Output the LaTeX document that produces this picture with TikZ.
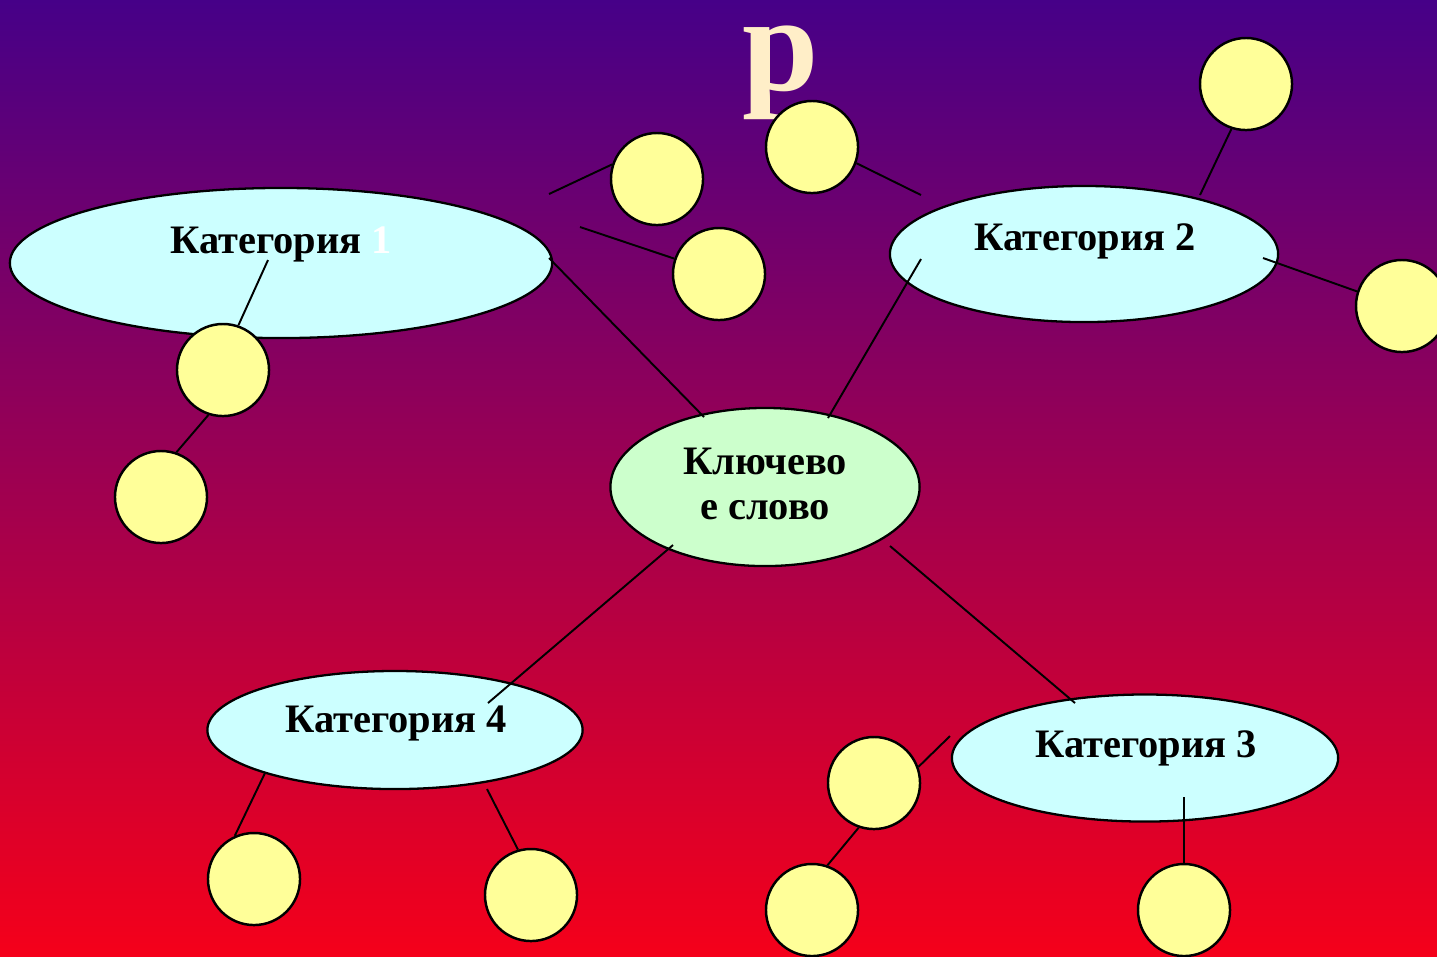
\documentclass[tikz,border=0pt]{standalone}
\usepackage{fontspec}
\setmainfont{Liberation Serif}
\usetikzlibrary{shapes.geometric}
\definecolor{bgtop}{HTML}{460088}
\definecolor{bgmid}{HTML}{A00074}
\definecolor{bgbot}{HTML}{F5001A}
\definecolor{catfill}{HTML}{CCFFFF}
\definecolor{keyfill}{HTML}{CCFFCC}
\definecolor{leaffill}{HTML}{FFFF99}
\definecolor{titlecol}{HTML}{FFEEC8}
\begin{document}
\begin{tikzpicture}[x=0.01cm,y=-0.01cm,
  cat/.style={ellipse, draw=black, line width=0.65pt, fill=catfill, inner sep=0pt},
  leaf/.style={circle, draw=black, line width=0.7pt, fill=leaffill, minimum size=0.92cm, inner sep=0pt},
  lbl/.style={font=\bfseries\fontsize{11.5}{13}\selectfont, text=black, anchor=base, inner sep=0pt},
  link/.style={draw=black, line width=0.55pt}]
\shade[top color=bgtop, middle color=bgmid, bottom color=bgbot] (0,0) rectangle (1437,956);
\useasboundingbox (0,0) rectangle (1437,956);

% title letter
\node[font=\bfseries\fontsize{39}{39}\selectfont, text=titlecol, anchor=base, inner sep=0pt, text height=0.72cm, text depth=0.32cm] (title) at (781,90) {р};

% ellipses
\node[cat, minimum width=5.42cm, minimum height=1.50cm] (cat1) at (281,263) {};
\node[cat, minimum width=3.88cm, minimum height=1.36cm] (cat2) at (1084,254) {};
\node[cat, minimum width=3.86cm, minimum height=1.27cm] (cat3) at (1145,758) {};
\node[cat, minimum width=3.75cm, minimum height=1.18cm] (cat4) at (395,730) {};
\node[cat, fill=keyfill, minimum width=3.09cm, minimum height=1.58cm] (key) at (765,487) {};

% labels
\node[lbl] (cat1t) at (281,253) {Категория \textcolor{white}{1}};
\node[lbl] (cat2t) at (1085,250) {Категория 2};
\node[lbl] (cat3t) at (1146,757) {Категория 3};
\node[lbl] (cat4t) at (396,732) {Категория 4};
\node[lbl] (keyA) at (765,474) {Ключево};
\node[lbl] (keyB) at (765,519) {е слово};

% leaves
\node[leaf] (c1) at (657,179) {};
\node[leaf] (c2) at (719,274) {};
\node[leaf] (c3) at (812,147) {};
\node[leaf] (c4) at (1246,84) {};
\node[leaf] (c5) at (1402,306) {};
\node[leaf] (c6) at (223,370) {};
\node[leaf] (c7) at (161,497) {};
\node[leaf] (c8) at (874,783) {};
\node[leaf] (c9) at (812,910) {};
\node[leaf] (c10) at (1184,910) {};
\node[leaf] (c11) at (254,879) {};
\node[leaf] (c12) at (531,895) {};

% free ends
\coordinate (p1) at (549,194);
\coordinate (p2) at (580,227);
\coordinate (p3) at (921,195);
\coordinate (p4) at (1200,195);
\coordinate (p5) at (1263,258);
\coordinate (p6) at (268,260);
\coordinate (k1a) at (549,258);
\coordinate (k1b) at (704,417);
\coordinate (k2a) at (921,259);
\coordinate (k2b) at (828,418);
\coordinate (k4a) at (673,545);
\coordinate (k4b) at (488,703);
\coordinate (k3a) at (890,546);
\coordinate (k3b) at (1075,703);
\coordinate (q8) at (950,736);
\coordinate (q10) at (1184,797);
\coordinate (q11) at (265,773);
\coordinate (q12) at (487,789);

% connectors
\draw[link] (p1) -- (c1.162);
\draw[link] (p2) -- (c2.161);
\draw[link] (c3.-20) -- (p3);
\draw[link] (p4) -- (c4.-108);
\draw[link] (p5) -- (c5.162);
\draw[link] (p6) -- (c6.71);
\draw[link] (c6.-108) -- (c7.71);
\draw[link] (k1a) -- (k1b);
\draw[link] (k2a) -- (k2b);
\draw[link] (k4a) -- (k4b);
\draw[link] (k3a) -- (k3b);
\draw[link] (q8) -- (c8.20);
\draw[link] (c8.-109) -- (c9.71);
\draw[link] (q10) -- (c10.north);
\draw[link] (q11) -- (c11.114);
\draw[link] (q12) -- (c12.106);
\end{tikzpicture}
\end{document}
